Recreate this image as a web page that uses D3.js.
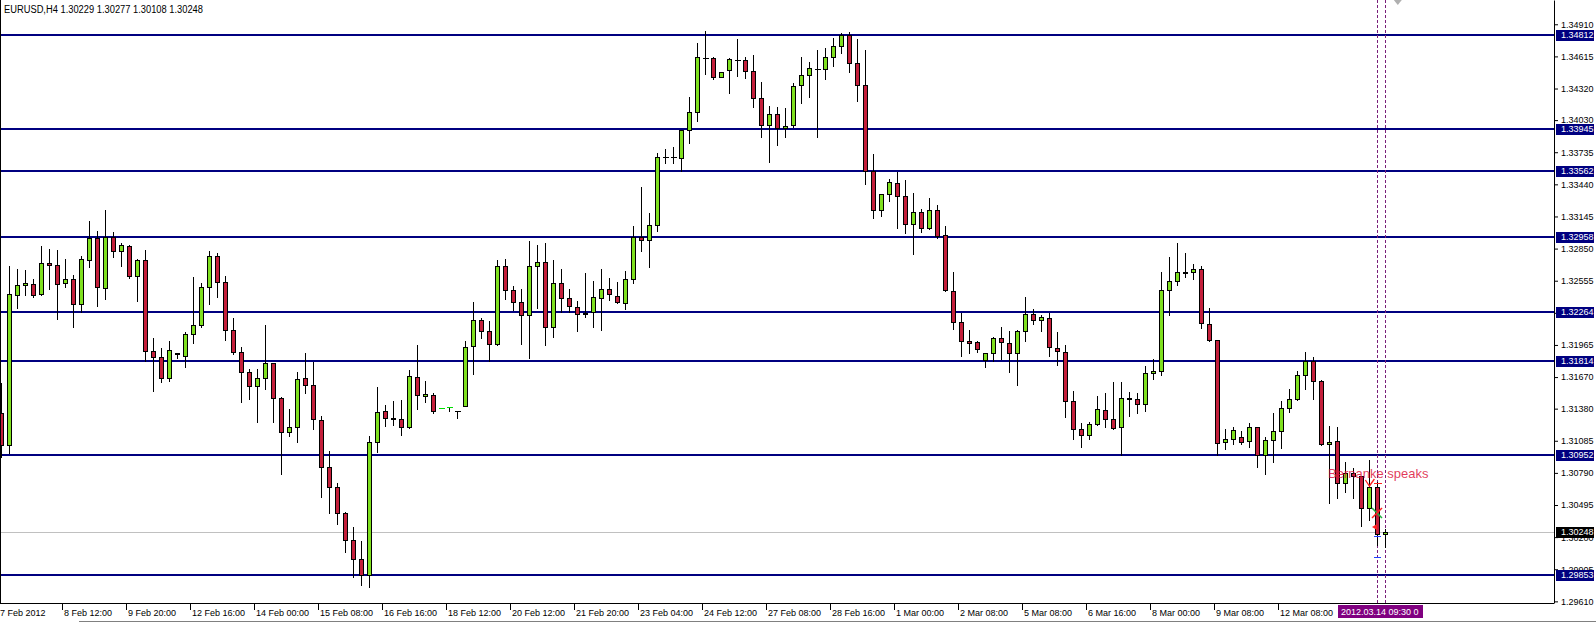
<!DOCTYPE html>
<html><head><meta charset="utf-8">
<script src="https://cdn.jsdelivr.net/npm/d3@7"></script>
<style>
body{margin:0;background:#fff;overflow:hidden;}
svg{display:block;}
text{font-family:"Liberation Sans",Arial,sans-serif;}
</style>
</head><body>
<svg id="chart" width="1596" height="624"></svg>
<script>
// ---------------- DATA ----------------
const chartTitle = "EURUSD,H4  1.30229 1.30277 1.30108 1.30248";

const opens = [
1.31340,1.31046,1.32425,1.32512,1.32522,1.32431,1.32715,1.32696,1.32531,1.32568,
1.32339,1.32745,1.32945,1.32490,1.32959,1.32825,1.32875,1.32595,1.32742,1.31907,
1.31852,1.31659,1.31889,1.31861,1.32063,1.32145,1.32494,1.32779,1.32540,1.32105,
1.31898,1.31714,1.31585,1.31665,1.31797,1.31475,1.31163,1.31209,1.31659,1.31594,
1.31278,1.30841,1.30658,1.30419,1.30171,1.29997,1.29849,1.31071,1.31356,1.31292,
1.31283,1.31209,1.31668,1.31493,1.31502,1.31383,1.31392,1.31361,1.31405,1.31953,
1.32191,1.32090,1.31971,1.32687,1.32470,1.32357,1.32237,1.32687,1.32724,1.32127,
1.32531,1.32393,1.32315,1.32247,1.32265,1.32393,1.32476,1.32412,1.32348,1.32568,
1.32959,1.32926,1.33064,1.33691,1.33691,1.33679,1.33936,1.34102,1.34603,1.34598,
1.34425,1.34487,1.34585,1.34579,1.34478,1.34230,1.33982,1.34083,1.33955,1.33982,
1.34349,1.34441,1.34502,1.34496,1.34607,1.34708,1.34815,1.34552,1.34349,1.33567,
1.33201,1.33348,1.33449,1.33330,1.33073,1.33183,1.33036,1.33201,1.32972,1.32458,
1.32173,1.31998,1.31989,1.31824,1.31889,1.32026,1.31980,1.31889,1.32090,1.32247,
1.32191,1.32210,1.31935,1.31898,1.31447,1.31191,1.31136,1.31237,1.31365,1.31283,
1.31209,1.31474,1.31466,1.31420,1.31705,1.31723,1.32467,1.32549,1.32635,1.32632,
1.32660,1.32155,1.32008,1.31071,1.31099,1.31117,1.31080,1.31209,1.30952,1.31089,
1.31172,1.31383,1.31466,1.31686,1.31815,1.31631,1.31053,1.31080,1.30694,1.30786,
1.30759,1.30465,1.30658,1.30229];

const highs = [
1.31615,1.32690,1.32662,1.32653,1.32568,1.32874,1.32843,1.32834,1.32752,1.32607,
1.32782,1.33104,1.33012,1.33204,1.33003,1.32899,1.32885,1.32752,1.32834,1.32029,
1.31934,1.32001,1.31892,1.32084,1.32586,1.32531,1.32828,1.32809,1.32595,1.32212,
1.31944,1.31741,1.31741,1.32148,1.31802,1.31484,1.31376,1.31714,1.31889,1.31809,
1.31313,1.30991,1.30694,1.30428,1.30293,1.30162,1.31129,1.31579,1.31413,1.31447,
1.31459,1.31735,1.31965,1.31634,1.31520,1.31383,1.31392,1.31361,1.32001,1.32360,
1.32212,1.32185,1.32745,1.32754,1.32506,1.32479,1.32920,1.32883,1.32902,1.32745,
1.32662,1.32476,1.32369,1.32626,1.32552,1.32662,1.32577,1.32546,1.32644,1.33058,
1.33419,1.33174,1.33727,1.33761,1.33783,1.33940,1.34242,1.34738,1.34849,1.34605,
1.34469,1.34600,1.34775,1.34610,1.34628,1.34377,1.34157,1.34148,1.34138,1.34370,
1.34610,1.34564,1.34674,1.34692,1.34784,1.34833,1.34837,1.34775,1.34674,1.33718,
1.33352,1.33489,1.33549,1.33477,1.33361,1.33210,1.33311,1.33247,1.33055,1.32632,
1.32255,1.32099,1.31998,1.31892,1.32035,1.32127,1.32090,1.32099,1.32406,1.32293,
1.32237,1.32256,1.32081,1.31962,1.31539,1.31246,1.31255,1.31493,1.31520,1.31622,
1.31622,1.31530,1.31520,1.31769,1.31834,1.32632,1.32770,1.32899,1.32807,1.32706,
1.32687,1.32302,1.32015,1.31191,1.31209,1.31172,1.31246,1.31212,1.31117,1.31337,
1.31447,1.31557,1.31723,1.31898,1.31852,1.31640,1.31218,1.31209,1.30887,1.30832,
1.30762,1.30906,1.30704,1.30277];

const lows = [
1.30936,1.30972,1.32307,1.32421,1.32403,1.32425,1.32476,1.32201,1.32494,1.32133,
1.32270,1.32684,1.32326,1.32390,1.32775,1.32690,1.32577,1.32372,1.31821,1.31545,
1.31622,1.31637,1.31843,1.31766,1.31980,1.32127,1.32344,1.32408,1.32010,1.31880,
1.31443,1.31471,1.31260,1.31563,1.31260,1.30782,1.31132,1.31076,1.31526,1.31191,
1.30571,1.30424,1.30323,1.30066,1.29831,1.29760,1.29741,1.30984,1.31218,1.31227,
1.31138,1.31200,1.31374,1.31443,1.31338,1.31383,1.31361,1.31292,1.31400,1.31701,
1.32031,1.31815,1.31965,1.32390,1.32289,1.31976,1.31848,1.32307,1.31967,1.32041,
1.32265,1.32265,1.32096,1.32225,1.32133,1.32105,1.32375,1.32350,1.32298,1.32531,
1.32831,1.32684,1.33015,1.33634,1.33634,1.33560,1.33822,1.34025,1.34456,1.34407,
1.34425,1.34276,1.34438,1.34416,1.34153,1.33878,1.33648,1.33804,1.33872,1.33969,
1.34190,1.34245,1.33878,1.34411,1.34530,1.34650,1.34475,1.34209,1.33439,1.33134,
1.33152,1.33290,1.33042,1.32996,1.32803,1.33000,1.33030,1.32945,1.32460,1.32108,
1.31861,1.31889,1.31898,1.31760,1.31815,1.31834,1.31714,1.31594,1.31998,1.32155,
1.32090,1.31861,1.31778,1.31300,1.31099,1.31025,1.31099,1.31227,1.31209,1.31195,
1.30952,1.31310,1.31338,1.31356,1.31650,1.31687,1.32237,1.32512,1.32586,1.32568,
1.32118,1.31998,1.30952,1.31007,1.31053,1.31053,1.31025,1.30841,1.30777,1.30889,
1.31016,1.31347,1.31460,1.31557,1.31466,1.31044,1.30511,1.30557,1.30612,1.30557,
1.30300,1.30355,1.30125,1.30108];

const closes = [
1.31046,1.32431,1.32512,1.32531,1.32421,1.32715,1.32696,1.32522,1.32568,1.32339,
1.32752,1.32945,1.32494,1.32959,1.32825,1.32880,1.32595,1.32742,1.31907,1.31852,
1.31659,1.31916,1.31882,1.32063,1.32145,1.32494,1.32779,1.32540,1.32099,1.31898,
1.31714,1.31585,1.31659,1.31797,1.31475,1.31163,1.31209,1.31650,1.31594,1.31283,
1.30841,1.30658,1.30419,1.30171,1.29997,1.29849,1.31071,1.31347,1.31292,1.31285,
1.31209,1.31677,1.31502,1.31511,1.31356,1.31383,1.31392,1.31361,1.31943,1.32191,
1.32090,1.31971,1.32687,1.32470,1.32357,1.32237,1.32687,1.32724,1.32127,1.32531,
1.32393,1.32320,1.32247,1.32262,1.32403,1.32476,1.32431,1.32357,1.32568,1.32959,
1.32926,1.33064,1.33691,1.33691,1.33691,1.33936,1.34102,1.34607,1.34598,1.34425,
1.34469,1.34588,1.34580,1.34478,1.34230,1.33982,1.34083,1.33955,1.33973,1.34340,
1.34441,1.34505,1.34497,1.34607,1.34708,1.34815,1.34552,1.34349,1.33560,1.33201,
1.33348,1.33458,1.33330,1.33073,1.33183,1.33036,1.33201,1.32966,1.32467,1.32173,
1.31998,1.31980,1.31925,1.31889,1.32026,1.31989,1.31889,1.32090,1.32247,1.32191,
1.32219,1.31944,1.31907,1.31447,1.31191,1.31136,1.31237,1.31374,1.31283,1.31200,
1.31475,1.31469,1.31420,1.31705,1.31723,1.32467,1.32549,1.32632,1.32630,1.32660,
1.32164,1.32008,1.31062,1.31099,1.31181,1.31071,1.31209,1.30952,1.31089,1.31172,
1.31383,1.31466,1.31686,1.31815,1.31631,1.31053,1.31071,1.30694,1.30786,1.30759,
1.30465,1.30658,1.30229,1.30248];

const levelPrices = [1.34812, 1.33945, 1.33562, 1.32958, 1.32264, 1.31814, 1.30952, 1.29853];
const currentPrice = 1.30248;

const priceTicks = [1.34910,1.34615,1.34320,1.34030,1.33735,1.33440,1.33145,1.32850,1.32555,
  1.32260,1.31965,1.31670,1.31380,1.31085,1.30790,1.30495,1.30200,1.29905,1.29610];

const timeTickBars = [0,8,16,24,32,40,48,56,64,72,80,88,96,104,112,120,128,136,144,152,160];
const timeTickLabels = ["7 Feb 2012","8 Feb 12:00","9 Feb 20:00","12 Feb 16:00","14 Feb 00:00",
  "15 Feb 08:00","16 Feb 16:00","18 Feb 12:00","20 Feb 12:00","21 Feb 20:00","23 Feb 04:00",
  "24 Feb 12:00","27 Feb 08:00","28 Feb 16:00","1 Mar 00:00","2 Mar 08:00","5 Mar 08:00",
  "6 Mar 16:00","8 Mar 00:00","9 Mar 08:00","12 Mar 08:00"];

const vlineBars = [172, 173];
const vlineLabel = "2012.03.14 09:30 0";

const noteText = "Bernanke speaks";
const noteBar = 166;
const notePrice = 1.30745;

// trade-arrow marks near the last bars: bar index, price
const markBars   = [171.3, 172, 172, 172, 172, 172];
const markPrices = [1.30697, 1.30697, 1.30422, 1.30293, 1.30210, 1.30018];
const markKinds  = ["check","dashRed","cross","arrowRed","dashBlue","dashBlue"];

// ---------------- LAYOUT ----------------
const plotRight = 1554, plotBottom = 603;
const svg = d3.select("#chart");
const bars = d3.range(opens.length).map(i => ({i, o:opens[i], h:highs[i], l:lows[i], c:closes[i]}));

const x = d3.scaleLinear().domain([0, opens.length - 1]).range([1, 1 + 8 * (opens.length - 1)]);
const y = d3.scaleLinear().domain([1.29595, 1.35133]).range([plotBottom, 0]);
const px = v => Math.round(x(v));
const py = v => Math.round(y(v));

const GREEN = "#7fe01f", RED = "#c41f3b", NAVY = "#000080";

svg.append("rect").attr("width",1596).attr("height",624).attr("fill","#fff");

// current price line (behind)
svg.append("line").attr("x1",0).attr("x2",plotRight)
  .attr("y1",py(currentPrice)+0.5).attr("y2",py(currentPrice)+0.5)
  .attr("stroke","#c0c0c0").attr("stroke-width",1);

// horizontal levels
svg.append("g").selectAll("line").data(levelPrices).join("line")
  .attr("x1",0).attr("x2",plotRight)
  .attr("y1",d=>py(d)).attr("y2",d=>py(d))
  .attr("stroke",NAVY).attr("stroke-width",2);

// vertical dashed lines
svg.append("g").selectAll("line").data(vlineBars).join("line")
  .attr("x1",d=>px(d)+0.5).attr("x2",d=>px(d)+0.5)
  .attr("y1",0).attr("y2",plotBottom)
  .attr("stroke","#7a1f7a").attr("stroke-width",1).attr("stroke-dasharray","3,2");

// candles
const g = svg.append("g");
bars.forEach(b => {
  const cx = px(b.i);
  const yh = py(b.h), yl = py(b.l);
  g.append("rect").attr("x",cx).attr("y",yh).attr("width",1).attr("height",Math.max(1,yl-yh+1)).attr("fill","#000");
  const yo = py(b.o), yc = py(b.c);
  const top = Math.min(yo,yc), bot = Math.max(yo,yc);
  if (b.o === b.c || top === bot) {
    const lime = (b.o === b.c) && (b.h - b.l < 0.0004);
    g.append("rect").attr("x",cx-2).attr("y",top).attr("width",6).attr("height",1)
      .attr("fill", lime ? "#00e000" : "#000");
  } else {
    g.append("rect").attr("x",cx-1.5).attr("y",top+0.5).attr("width",4).attr("height",bot-top)
      .attr("fill", b.c > b.o ? GREEN : RED).attr("stroke","#000").attr("stroke-width",1);
  }
});

// trade marks
const mg = svg.append("g");
markKinds.forEach((k, j) => {
  const mx = x(markBars[j]), my = py(markPrices[j]);
  if (k === "check") {
    mg.append("path").attr("d",`M${mx-6},${my-3}L${mx-2},${my+3}L${mx+3},${my-4}`)
      .attr("fill","none").attr("stroke","#ff2020").attr("stroke-width",1.3);
  } else if (k === "dashRed") {
    mg.append("line").attr("x1",mx-3).attr("x2",mx+5).attr("y1",my+0.5).attr("y2",my+0.5).attr("stroke","#ff2020");
  } else if (k === "cross") {
    mg.append("line").attr("x1",mx-5).attr("x2",mx+5).attr("y1",my-5).attr("y2",my+5).attr("stroke","#20b040").attr("stroke-width",1.5);
    mg.append("line").attr("x1",mx-5).attr("x2",mx+5).attr("y1",my+5).attr("y2",my-5).attr("stroke","#ff2020").attr("stroke-width",1.5);
  } else if (k === "arrowRed") {
    mg.append("path").attr("d",`M${mx-5},${my}L${mx},${my-3}L${mx},${my+3}Z`).attr("fill","#ff2020");
  } else if (k === "dashBlue") {
    mg.append("line").attr("x1",mx-3).attr("x2",mx+4).attr("y1",my+0.5).attr("y2",my+0.5).attr("stroke","#2040ff");
  }
});

// annotation
svg.append("text").attr("x",px(noteBar)-1).attr("y",py(notePrice))
  .attr("fill","#dc143c").attr("fill-opacity",0.85).attr("font-size",13).text(noteText);

// borders
svg.append("line").attr("x1",0.5).attr("x2",0.5).attr("y1",0).attr("y2",plotBottom).attr("stroke","#000");
svg.append("line").attr("x1",0).attr("x2",plotRight).attr("y1",plotBottom+0.5).attr("y2",plotBottom+0.5).attr("stroke","#000");

// right price axis
const yAxis = d3.axisRight(y).tickValues(priceTicks).tickSize(4).tickSizeOuter(0).tickFormat(d3.format(".5f"));
const ya = svg.append("g").attr("transform",`translate(${plotRight},0)`).call(yAxis);
ya.select(".domain").attr("stroke","#000");
ya.selectAll(".tick line").attr("stroke","#000");
ya.selectAll(".tick text").attr("font-size",9).attr("fill","#000").attr("font-family","Liberation Sans, Arial, sans-serif");

// level labels
const lg = svg.append("g");
levelPrices.concat([currentPrice]).forEach((p, j) => {
  const yy = py(p);
  const isCur = j === levelPrices.length;
  lg.append("rect").attr("x",plotRight+2).attr("y",yy-5).attr("width",38).attr("height",11)
    .attr("fill", isCur ? "#000" : NAVY);
  lg.append("text").attr("x",plotRight+7).attr("y",yy+0.5).attr("dy","0.32em")
    .attr("font-size",9).attr("fill","#fff").text(d3.format(".5f")(p));
});

// bottom time axis
const tg = svg.append("g");
timeTickBars.forEach((b, j) => {
  const tx = px(b);
  tg.append("line").attr("x1",tx-2.5).attr("x2",tx-2.5).attr("y1",plotBottom).attr("y2",plotBottom+7).attr("stroke","#000");
  tg.append("text").attr("x",tx-1).attr("y",616).attr("font-size",9).attr("fill","#000").text(timeTickLabels[j]);
});
// vertical line time label
const vlx = (x(vlineBars[0]) + x(vlineBars[1])) / 2;
svg.append("rect").attr("x",Math.round(vlx-43)).attr("y",605).attr("width",85).attr("height",13).attr("fill","#800080");
svg.append("text").attr("x",Math.round(vlx-40)).attr("y",615).attr("font-size",9).attr("fill","#fff").text(vlineLabel);

// window bottom line
svg.append("line").attr("x1",79).attr("x2",1596).attr("y1",621.5).attr("y2",621.5).attr("stroke","#808080");

// chart-shift marker
const shiftX = x(opens.length + 0.6);
svg.append("path").attr("d",`M${shiftX-4},0L${shiftX+4},0L${shiftX},5Z`).attr("fill","#b0b0b0");

// title
svg.append("text").attr("x",4).attr("y",13).attr("font-size",10).attr("textLength",199).attr("lengthAdjust","spacingAndGlyphs")
  .attr("fill","#000").text(chartTitle);
</script>
</body></html>
